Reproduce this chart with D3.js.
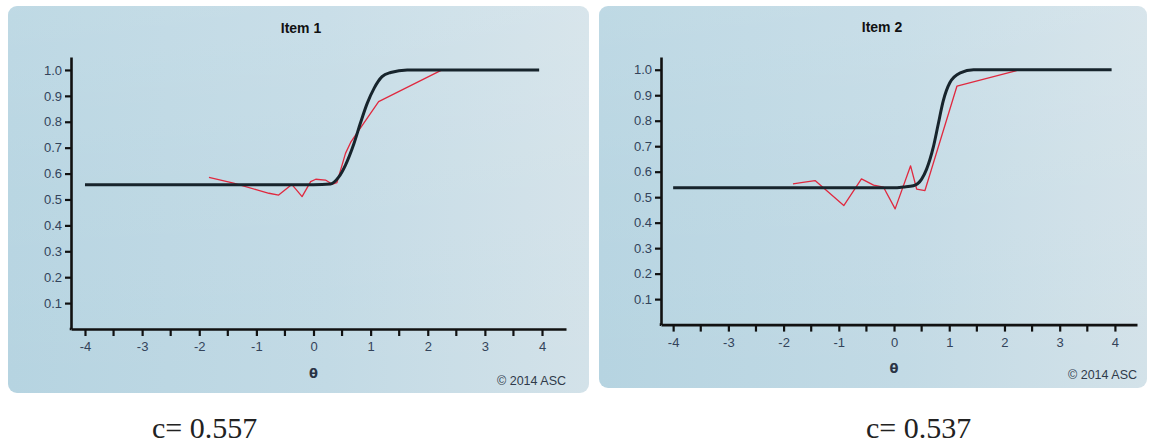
<!DOCTYPE html>
<html>
<head>
<meta charset="utf-8">
<script src="https://cdn.jsdelivr.net/npm/d3@7"></script>
<style>
  html, body { margin: 0; padding: 0; background: #fff; }
  svg { display: block; }
</style>
</head>
<body>
<svg id="chart" width="1154" height="444"></svg>
<script>
// data
const thetaTicks = [-4, -3, -2, -1, 0, 1, 2, 3, 4];
const thetaMinorTicks = [-3.5, -2.5, -1.5, -0.5, 0.5, 1.5, 2.5, 3.5];
const probTicks = [0.1, 0.2, 0.3, 0.4, 0.5, 0.6, 0.7, 0.8, 0.9, 1.0];
const itemTitles = ["Item 1", "Item 2"];
const guessValues = ["0.557", "0.537"];

// model curve (black) and empirical curve (red), [theta, p]
const item1Model = [[-4, 0.557], [0, 0.557], [0.3, 0.56], [0.44, 0.586], [0.56, 0.633], [0.71, 0.717],
  [0.82, 0.794], [0.94, 0.871], [1.06, 0.929], [1.2, 0.974], [1.35, 0.99], [1.64, 1.0], [3.95, 1.0]];
const item1Observed = [[-1.83, 0.585], [-1.4, 0.563], [-0.99, 0.537], [-0.78, 0.524], [-0.61, 0.517],
  [-0.38, 0.558], [-0.2, 0.511], [-0.05, 0.569], [0.04, 0.578], [0.21, 0.575], [0.33, 0.559],
  [0.41, 0.565], [0.56, 0.678], [0.65, 0.72], [0.76, 0.756], [1.14, 0.878], [2.25, 1.0]];

const item2Model = [[-4, 0.537], [0, 0.537], [0.17, 0.54], [0.35, 0.545], [0.5, 0.571], [0.59, 0.61],
  [0.71, 0.695], [0.8, 0.786], [0.89, 0.877], [1.01, 0.949], [1.2, 0.988], [1.44, 1.0], [3.94, 1.0]];
const item2Observed = [[-1.83, 0.552], [-1.65, 0.558], [-1.43, 0.565], [-0.91, 0.467], [-0.59, 0.572],
  [-0.37, 0.547], [-0.19, 0.539], [0.02, 0.454], [0.3, 0.623], [0.41, 0.532], [0.56, 0.526],
  [1.14, 0.936], [2.22, 0.997]];

const modelCurves = [item1Model, item2Model];
const observedCurves = [item1Observed, item2Observed];

// layout of the two screenshots
const panels = [
  { x: 8, y: 6, w: 581, h: 387, axL: 71, axR: 566, axB: 329, axT: 57, xDom: [-4.245, 4.42],
    titleX: 301, titleY: 33, thetaY: 378, copyY: 385, capX: 152 },
  { x: 599, y: 6, w: 548, h: 382, axL: 661, axR: 1137, axB: 324.6, axT: 57, xDom: [-4.22, 4.40],
    titleX: 882, titleY: 32, thetaY: 373, copyY: 379, capX: 866 }
];

const svg = d3.select("#chart");
const defs = svg.append("defs");

const grad = defs.append("linearGradient")
  .attr("id", "panelBg")
  .attr("x1", "0%").attr("y1", "0%")
  .attr("x2", "100%").attr("y2", "0%");
grad.append("stop").attr("offset", "0%").attr("stop-color", "#b6d4e1");
grad.append("stop").attr("offset", "55%").attr("stop-color", "#c2dae5");
grad.append("stop").attr("offset", "100%").attr("stop-color", "#d3e2e9");

const gloss = defs.append("linearGradient")
  .attr("id", "panelGloss")
  .attr("x1", "0%").attr("y1", "0%")
  .attr("x2", "0%").attr("y2", "100%");
gloss.append("stop").attr("offset", "0%").attr("stop-color", "#ffffff").attr("stop-opacity", 0.12);
gloss.append("stop").attr("offset", "45%").attr("stop-color", "#ffffff").attr("stop-opacity", 0.05);
gloss.append("stop").attr("offset", "100%").attr("stop-color", "#ffffff").attr("stop-opacity", 0);

panels.forEach((p, i) => {
  const g = svg.append("g");

  g.append("rect")
    .attr("x", p.x).attr("y", p.y)
    .attr("width", p.w).attr("height", p.h)
    .attr("rx", 9)
    .attr("fill", "url(#panelBg)");
  g.append("rect")
    .attr("x", p.x).attr("y", p.y)
    .attr("width", p.w).attr("height", p.h)
    .attr("rx", 9)
    .attr("fill", "url(#panelGloss)");

  const xScale = d3.scaleLinear().domain(p.xDom).range([p.axL, p.axR]);
  const yScale = d3.scaleLinear().domain([0, 1.05]).range([p.axB, p.axT]);

  // x axis, major then minor ticks
  const xAxis = g.append("g")
    .attr("transform", `translate(0, ${p.axB})`)
    .call(d3.axisBottom(xScale).tickValues(thetaTicks).tickSize(7).tickSizeOuter(0)
      .tickFormat((d) => String(d)).tickPadding(6));
  xAxis.append("g")
    .selectAll("line")
    .data(thetaMinorTicks)
    .enter()
    .append("line")
    .attr("x1", (d) => xScale(d)).attr("x2", (d) => xScale(d))
    .attr("y1", 0).attr("y2", 7)
    .attr("stroke", "#111").attr("stroke-width", 2.2);

  const yAxis = g.append("g")
    .attr("transform", `translate(${p.axL}, 0)`)
    .call(d3.axisLeft(yScale).tickValues(probTicks).tickSize(6).tickSizeOuter(0)
      .tickFormat(d3.format(".1f")).tickPadding(3));

  [xAxis, yAxis].forEach((ax) => {
    ax.select(".domain").attr("stroke", "#111").attr("stroke-width", 2.6);
    ax.selectAll(".tick line").attr("stroke", "#111").attr("stroke-width", 2.2);
    ax.selectAll(".tick text")
      .attr("fill", "#33435a")
      .style("font-family", "'Liberation Sans', Arial, sans-serif")
      .style("font-size", "13px");
  });

  // extend the x axis line to the y axis
  g.append("line")
    .attr("x1", p.axL - 1.3).attr("x2", p.axL)
    .attr("y1", p.axB).attr("y2", p.axB)
    .attr("stroke", "#111").attr("stroke-width", 2.6);

  const line = d3.line()
    .x((d) => xScale(d[0]))
    .y((d) => yScale(d[1]));

  g.append("path")
    .datum(observedCurves[i])
    .attr("d", line.curve(d3.curveLinear))
    .attr("fill", "none")
    .attr("stroke", "#e0293f")
    .attr("stroke-width", 1.3)
    .attr("stroke-linejoin", "round");

  g.append("path")
    .datum(modelCurves[i])
    .attr("d", line.curve(d3.curveMonotoneX))
    .attr("fill", "none")
    .attr("stroke", "#17242c")
    .attr("stroke-width", 3);

  g.append("text")
    .attr("x", p.titleX).attr("y", p.titleY)
    .attr("text-anchor", "middle")
    .style("font-family", "'Liberation Sans', Arial, sans-serif")
    .style("font-size", "14px")
    .style("font-weight", "bold")
    .attr("fill", "#111")
    .text(itemTitles[i]);

  g.append("text")
    .attr("x", xScale(0)).attr("y", p.thetaY)
    .attr("text-anchor", "middle")
    .style("font-family", "'DejaVu Sans', sans-serif")
    .style("font-size", "13px")
    .style("font-weight", "bold")
    .attr("fill", "#2a3445")
    .text("θ");

  g.append("text")
    .attr("x", p.axR).attr("y", p.copyY)
    .attr("text-anchor", "end")
    .style("font-family", "'Liberation Sans', Arial, sans-serif")
    .style("font-size", "12.5px")
    .attr("fill", "#2f3a4a")
    .text("© 2014 ASC");

  // caption under each screenshot
  svg.append("text")
    .attr("x", p.capX).attr("y", 438)
    .style("font-family", "'Liberation Serif', 'Times New Roman', serif")
    .style("font-size", "30px")
    .attr("fill", "#222")
    .text(`c= ${guessValues[i]}`);
});
</script>
</body>
</html>
